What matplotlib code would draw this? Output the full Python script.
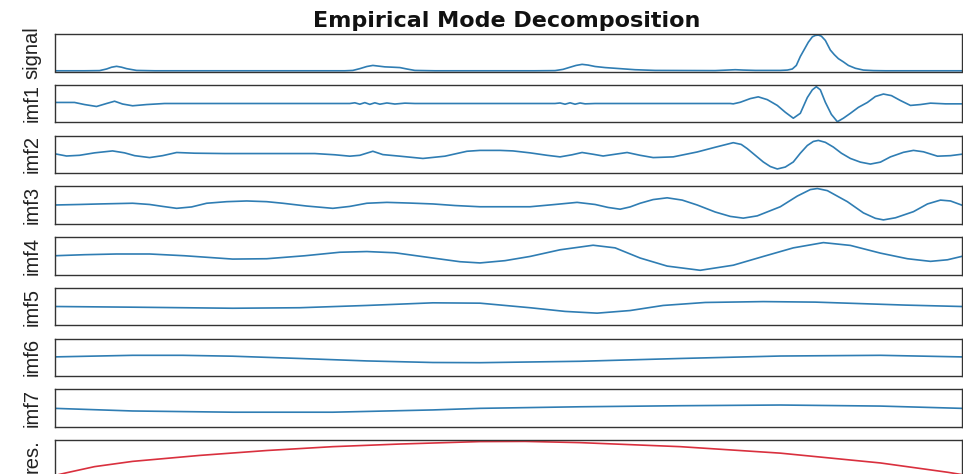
import matplotlib
matplotlib.use("Agg")
import matplotlib.pyplot as plt

# Panel names, top to bottom
labels = ["signal", "imf1", "imf2", "imf3", "imf4", "imf5", "imf6", "imf7", "res."]

# Original signal
sig_x = [0, 30, 45, 52, 57, 62, 67, 72, 82, 100, 200, 290, 298, 305, 312, 318, 324, 330, 338,
         345, 352, 360, 380, 480, 500, 508, 515, 521, 527, 533, 540, 550, 560, 570, 580, 600,
         660, 672, 680, 688, 700, 725, 732, 737, 741, 745, 749, 753, 757, 760, 763, 766, 770,
         775, 779, 783, 788, 793, 800, 808, 818, 830, 860, 906]
sig_y = [0, 0, 0.005, 0.05, 0.10, 0.125, 0.10, 0.06, 0.01, 0, 0, 0, 0.01, 0.06, 0.12, 0.15,
         0.13, 0.11, 0.10, 0.09, 0.05, 0.01, 0, 0, 0.005, 0.04, 0.10, 0.15, 0.18, 0.16, 0.12,
         0.09, 0.07, 0.05, 0.03, 0.01, 0.005, 0.02, 0.03, 0.02, 0.01, 0.01, 0.02, 0.05, 0.15,
         0.40, 0.60, 0.80, 0.95, 0.99, 1.0, 0.97, 0.85, 0.58, 0.45, 0.34, 0.25, 0.15, 0.07,
         0.02, 0.005, 0, 0, 0]

imf1_x = [0, 20, 30, 42, 52, 60, 68, 78, 92, 110, 290, 295, 300, 305, 310, 315, 320, 325, 332,
          340, 350, 360, 500, 505, 510, 515, 520, 525, 530, 540, 675, 678, 685, 695, 703, 712,
          722, 730, 738, 745, 752, 757, 761, 765, 770, 776, 782, 788, 795, 803, 812, 820, 828,
          836, 845, 855, 865, 875, 890, 906]
imf1_y = [0.03, 0.03, -0.03, -0.085, 0, 0.065, -0.015, -0.065, -0.03, 0, 0, 0, 0.02, -0.02,
          0.025, -0.025, 0.02, -0.02, 0.015, -0.015, 0.01, 0, 0, 0.015, -0.02, 0.02, -0.02,
          0.015, -0.01, 0, 0, -0.01, 0.035, 0.14, 0.19, 0.11, -0.055, -0.25, -0.42, -0.28,
          0.17, 0.39, 0.48, 0.39, 0.035, -0.31, -0.52, -0.42, -0.28, -0.11, 0.03, 0.20, 0.27,
          0.225, 0.085, -0.055, -0.03, 0.01, -0.01, -0.01]

imf2_x = [0, 12, 25, 40, 58, 70, 80, 95, 108, 122, 140, 170, 220, 260, 280, 295, 305, 318, 328,
          345, 368, 390, 412, 425, 445, 458, 475, 492, 505, 517, 527, 538, 548, 560, 572, 585,
          598, 618, 642, 660, 678, 686, 692, 700, 708, 715, 722, 730, 738, 745, 752, 758, 763,
          770, 778, 786, 795, 805, 815, 825, 835, 848, 858, 868, 882, 895, 906]
imf2_y = [0.015, -0.05, -0.03, 0.04, 0.095, 0.04, -0.04, -0.095, -0.04, 0.05, 0.03, 0.02, 0.02,
          0.02, -0.015, -0.055, -0.03, 0.085, -0.01, -0.055, -0.12, -0.055, 0.085, 0.11, 0.11,
          0.095, 0.04, -0.03, -0.075, -0.015, 0.05, 0, -0.05, 0, 0.05, -0.03, -0.095, -0.075,
          0.065, 0.2, 0.33, 0.28, 0.16, -0.03, -0.22, -0.35, -0.42, -0.365, -0.22, 0.03, 0.25,
          0.365, 0.395, 0.34, 0.205, 0.03, -0.12, -0.225, -0.28, -0.225, -0.075, 0.055, 0.11,
          0.07, -0.055, -0.04, 0]

imf3_x = [0, 25, 45, 78, 95, 108, 122, 137, 152, 172, 192, 212, 228, 252, 278, 295, 312, 332,
          355, 378, 400, 425, 450, 475, 500, 522, 540, 553, 565, 575, 585, 598, 612, 627, 642,
          660, 675, 688, 702, 725, 742, 755, 762, 772, 792, 808, 820, 828, 840, 858, 872, 885,
          895, 906]
imf3_y = [0, 0.015, 0.03, 0.05, 0.015, -0.04, -0.095, -0.055, 0.05, 0.095, 0.115, 0.095, 0.05,
          -0.03, -0.095, -0.04, 0.05, 0.075, 0.055, 0.03, -0.015, -0.05, -0.05, -0.05, 0.015,
          0.075, 0.015, -0.07, -0.12, -0.055, 0.05, 0.155, 0.205, 0.14, 0, -0.2, -0.325, -0.375,
          -0.31, -0.05, 0.255, 0.44, 0.47, 0.41, 0.095, -0.225, -0.38, -0.425, -0.365, -0.19,
          0.03, 0.14, 0.115, 0]

imf4_x = [0, 30, 62, 95, 130, 178, 212, 250, 285, 312, 340, 378, 405, 425, 450, 475, 505, 538,
          560, 585, 612, 645, 678, 708, 738, 768, 795, 825, 852, 875, 892, 906]
imf4_y = [0, 0.03, 0.05, 0.05, 0, -0.095, -0.085, 0, 0.1, 0.12, 0.085, -0.065, -0.17, -0.205,
          -0.14, -0.02, 0.17, 0.3, 0.225, -0.065, -0.295, -0.415, -0.27, -0.02, 0.225, 0.375,
          0.295, 0.075, -0.085, -0.16, -0.115, -0.02]

imf5_x = [0, 80, 178, 245, 312, 378, 425, 475, 510, 542, 575, 608, 650, 708, 760, 792, 850, 906]
imf5_y = [0, -0.02, -0.05, -0.035, 0.03, 0.105, 0.095, -0.035, -0.14, -0.19, -0.115, 0.03,
          0.115, 0.14, 0.125, 0.095, 0.04, 0]

imf6_x = [0, 78, 128, 178, 245, 312, 378, 425, 525, 625, 725, 825, 906]
imf6_y = [0.01, 0.055, 0.055, 0.03, -0.035, -0.105, -0.15, -0.155, -0.115, -0.035, 0.035,
          0.055, 0.01]

imf7_x = [0, 78, 178, 278, 378, 425, 525, 625, 725, 825, 906]
imf7_y = [-0.01, -0.085, -0.12, -0.12, -0.055, -0.01, 0.035, 0.065, 0.085, 0.055, -0.01]

res_x = [0, 12, 40, 78, 145, 212, 278, 345, 425, 470, 525, 625, 725, 825, 892, 906]
res_y = [-0.48, -0.40, -0.225, -0.075, 0.095, 0.235, 0.345, 0.42, 0.49, 0.495, 0.46, 0.345,
         0.16, -0.12, -0.385, -0.45]

series = [(sig_x, sig_y), (imf1_x, imf1_y), (imf2_x, imf2_y), (imf3_x, imf3_y),
          (imf4_x, imf4_y), (imf5_x, imf5_y), (imf6_x, imf6_y), (imf7_x, imf7_y),
          (res_x, res_y)]

W, H = 963, 474
fig = plt.figure(figsize=(W / 100, H / 100), dpi=100)

left, right = 54.5, 961.5
top0, step, ph = 34, 50.75, 37.5
blue, red = "#2f7db3", "#d9303e"

for i, (name, (xs, ys)) in enumerate(zip(labels, series)):
    top = top0 + step * i
    ax = fig.add_axes([left / W, (H - top - ph) / H, (right - left) / W, ph / H])
    color = red if name == "res." else blue
    ax.plot(xs, ys, color=color, lw=1.2)
    ax.set_xlim(0, 906)
    if name == "signal":
        ax.set_ylim(-0.02, 1.03)
    else:
        ax.set_ylim(-0.535, 0.535)
    ax.set_xticks([])
    ax.set_yticks([])
    for sp in ax.spines.values():
        sp.set_color("#333333")
        sp.set_linewidth(1.0)
    # the bottom panel runs past the figure edge, keep its label inside
    yc = min(top + ph / 2, H - 18)
    fig.text(32 / W, (H - yc) / H, name, rotation=90, ha="center", va="center",
             fontsize=14.5, family="Liberation Sans", color="#222222")

fig.text(507 / W, (H - 27) / H, "Empirical Mode Decomposition", ha="center", va="baseline",
         fontsize=16, fontweight="bold", family="DejaVu Sans", color="#111111")

fig.savefig("out.png", dpi=100)
